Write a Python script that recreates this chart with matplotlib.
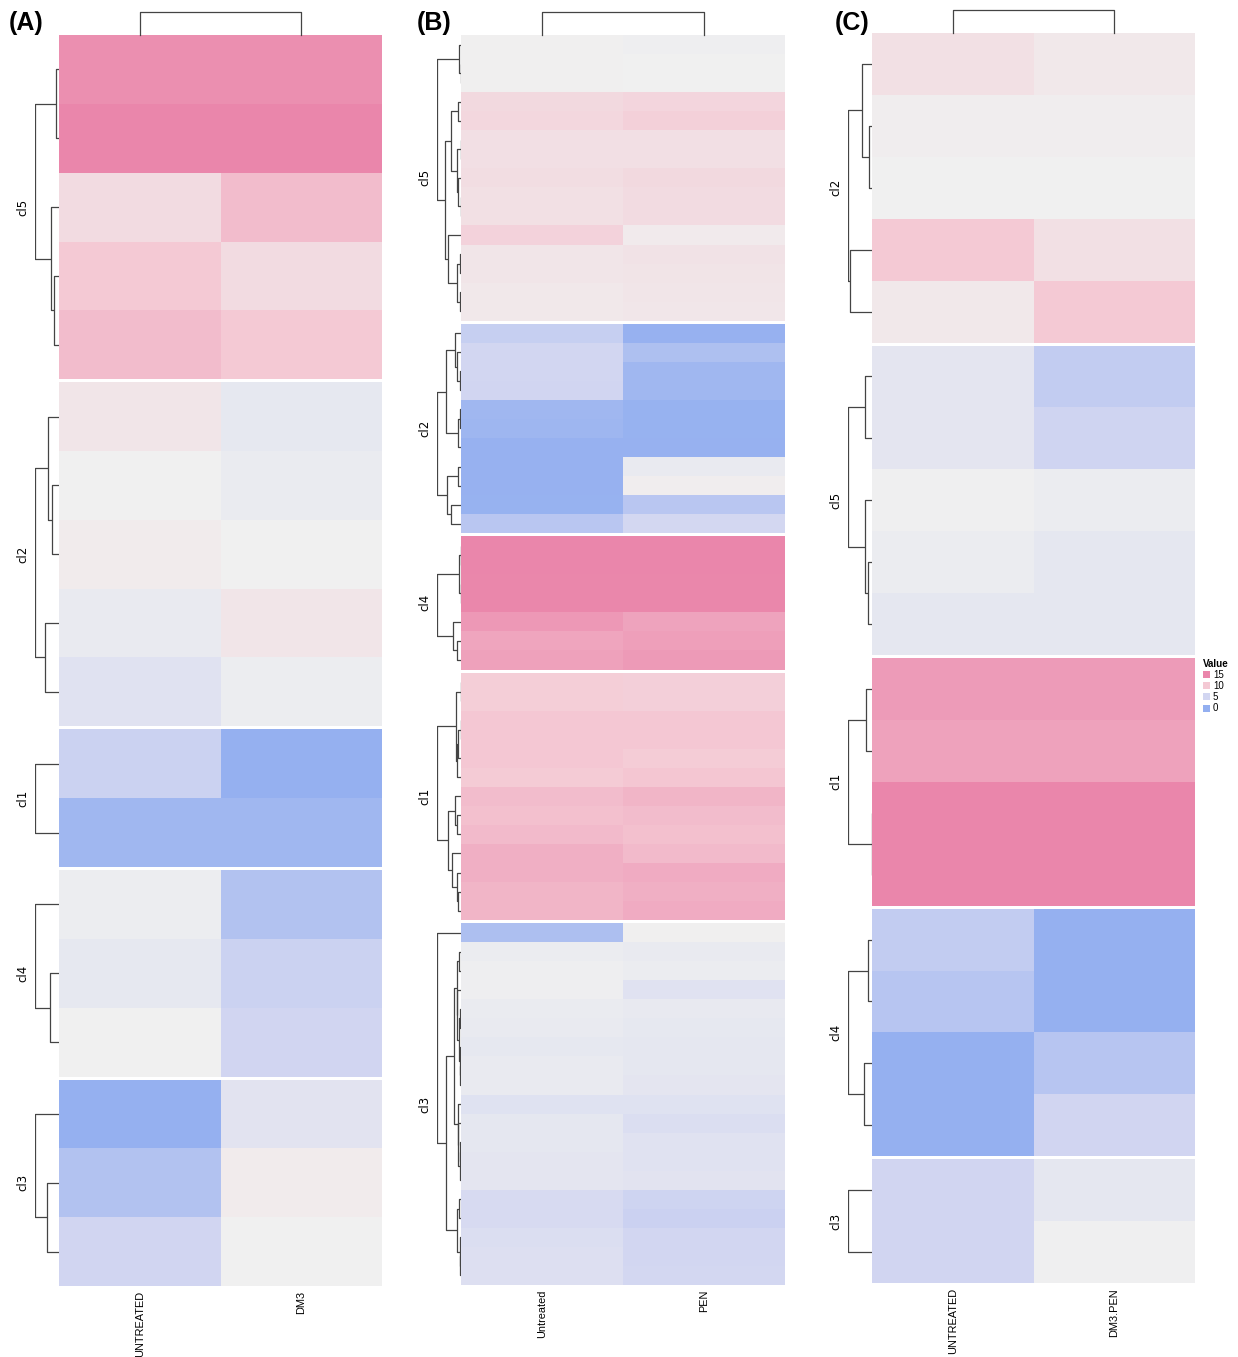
import numpy as np
import matplotlib
matplotlib.use('Agg')
import matplotlib.pyplot as plt
from matplotlib.colors import LinearSegmentedColormap, Normalize
from matplotlib.patches import Patch

plt.rcParams['font.family'] = ['Liberation Sans', 'DejaVu Sans']

# ---- data ----
a_clusters = ['cl5', 'cl2', 'cl1', 'cl4', 'cl3']
a_sizes = [5, 5, 2, 3, 3]
a_cols = ['UNTREATED', 'DM3']
a_untreated = [14.3, 15, 8.8, 10.0, 11.0, 8.2, 7.5, 7.8, 6.9, 6.2, 4.5, 1.0, 7.2, 6.7, 7.5, 0.2, 2.5, 4.9]
a_dm3 = [14.3, 15, 11.0, 8.8, 10.0, 6.7, 7.0, 7.5, 8.2, 7.2, 0.2, 1.0, 2.5, 4.5, 4.9, 6.3, 7.8, 7.5]

b_clusters = ['cl5', 'cl2', 'cl4', 'cl1', 'cl3']
b_sizes = [15, 11, 7, 13, 19]
b_cols = ['Untreated', 'PEN']
b_untreated = [7.6, 7.6, 7.6, 9.0, 9.1, 8.6, 8.6, 8.7, 8.5, 8.5, 9.4, 8.2, 8.2, 8.0, 8.0,
               4.1, 5.0, 5.0, 4.9, 1.1, 0.9, 0.3, 0.3, 0.3, 0.4, 3.0,
               15, 15, 14.9, 14.9, 13.6, 12.7, 13.0,
               9.7, 9.7, 10.1, 10.1, 10.1, 9.9, 10.9, 10.7, 11.1, 11.9, 11.9, 11.5, 11.5,
               2.1, 7.1, 7.3, 7.3, 7.0, 6.9, 6.7, 6.9, 6.9, 6.1, 6.6, 6.6, 6.5, 6.5, 5.4, 5.4, 5.8, 5.9, 5.9]
b_pen = [7.35, 7.5, 7.5, 9.2, 9.5, 8.6, 8.6, 9.0, 8.8, 8.8, 7.9, 8.4, 8.3, 8.2, 8.1,
         0.3, 2.2, 1.1, 1.1, 0.4, 0.4, 0.3, 6.9, 7.7, 3.0, 5.05,
         15, 15, 14.9, 14.9, 12.8, 13.1, 13.5,
         9.6, 9.6, 10.1, 10.1, 9.8, 10.2, 11.5, 10.9, 10.7, 11.1, 12.2, 11.9, 12.2,
         7.6, 6.9, 7.1, 6.2, 6.8, 6.7, 6.6, 6.6, 6.5, 6.1, 5.8, 6.2, 6.2, 6.3, 4.7, 4.4, 5.0, 5.0, 5.1]

c_clusters = ['cl2', 'cl5', 'cl1', 'cl4', 'cl3']
c_sizes = [5, 5, 4, 4, 2]
c_cols = ['UNTREATED', 'DM3.PEN']
c_untreated = [8.5, 7.7, 7.5, 10.0, 8.0, 6.5, 6.5, 7.4, 7.1, 6.6, 13.4, 12.9, 15, 15, 3.8, 2.9, 0.2, 0.2, 4.9, 4.9]
c_dm3pen = [8.0, 7.7, 7.5, 8.5, 10.0, 3.8, 4.8, 7.1, 6.6, 6.6, 13.4, 12.9, 15, 15, 0.2, 0.2, 2.9, 4.9, 6.6, 7.4]

legend_vals = [15, 10, 5, 0]

# colour scale 0..15, blue -> grey -> pink
cmap = LinearSegmentedColormap.from_list('val', [(0, '#93aff0'), (5 / 15, '#d2d6f1'), (0.5, '#f0f0f0'),
                                                 (10 / 15, '#f4c9d4'), (1, '#ea86ab')])
norm = Normalize(0, 15)

W, H = 1238, 1357
fig = plt.figure(figsize=(W / 100, H / 100), dpi=100)


def fx(p):
    return p / W


def fy(p):
    return 1 - p / H


def dendro(vals):
    # complete linkage, merging only neighbouring groups so leaves keep the drawn order
    nodes = [(i + 0.5, 0.0, [i]) for i in range(len(vals))]
    segs = []
    while len(nodes) > 1:
        best = None
        for k in range(len(nodes) - 1):
            a, b = nodes[k], nodes[k + 1]
            d = max(np.linalg.norm(vals[i] - vals[j]) for i in a[2] for j in b[2])
            if best is None or d < best[0]:
                best = (d, k)
        d, k = best
        a, b = nodes[k], nodes[k + 1]
        h = max(d, a[1], b[1])
        segs.append(([a[1], h, h, b[1]], [a[0], a[0], b[0], b[0]]))
        nodes[k:k + 2] = [((a[0] + b[0]) / 2, h, a[2] + b[2])]
    return segs, nodes[0][1]


def panel(tag, tagx, left, right, top, bottom, cols, c1, c2, clusters, sizes, colfs):
    vals = np.column_stack([c1, c2])
    n = len(vals)
    gap_px = 3
    row_px = (bottom - top - gap_px * (len(sizes) - 1)) / n
    gap = gap_px / row_px
    total = n + gap * (len(sizes) - 1)
    ax = fig.add_axes([fx(left), fy(bottom), fx(right - left), (bottom - top) / H])
    dax = fig.add_axes([fx(left - 24), fy(bottom), fx(24), (bottom - top) / H])
    start, i0 = 0.0, 0
    for name, cnt in zip(clusters, sizes):
        block = vals[i0:i0 + cnt]
        ax.pcolormesh([0, 1, 2], start + np.arange(cnt + 1), block, cmap=cmap, norm=norm)
        if cnt > 1:
            segs, root = dendro(block)
            for xs, ys in segs:
                dax.plot(1 - np.array(xs) / root, start + np.array(ys), color='#444444', lw=0.9,
                         solid_capstyle='butt')
        ypix = top + (start + cnt / 2) / total * (bottom - top)
        fig.text(fx(left - 36), fy(ypix), name, rotation=90, ha='center', va='center', fontsize=8.5,
                 family=['DejaVu Sans'])
        start += cnt + gap
        i0 += cnt
    for a in (ax, dax):
        a.set_ylim(total, 0)
        a.axis('off')
    ax.set_xlim(0, 2)
    dax.set_xlim(0, 1.02)
    # column dendrogram
    cax = fig.add_axes([fx(left), fy(top), fx(right - left), 23 / H])
    cax.plot([0.5, 0.5, 1.5, 1.5], [0, 1, 1, 0], color='#444444', lw=0.9, clip_on=False)
    cax.set_xlim(0, 2)
    cax.set_ylim(0, 1)
    cax.axis('off')
    for j, c in enumerate(cols):
        fig.text(fx(left + (j + 0.5) * (right - left) / 2), fy(bottom + 5), c, rotation=90,
                 ha='center', va='top', fontsize=colfs)
    fig.text(fx(tagx), fy(23), tag, fontsize=18, fontweight='bold', ha='left', va='center')


panel('(A)', 9, 59, 382, 35, 1286, a_cols, a_untreated, a_dm3, a_clusters, a_sizes, 7.9)
panel('(B)', 417, 461, 785, 35, 1285, b_cols, b_untreated, b_pen, b_clusters, b_sizes, 7.8)
panel('(C)', 835, 872, 1195, 33, 1283, c_cols, c_untreated, c_dm3pen, c_clusters, c_sizes, 7.9)

handles = [Patch(facecolor=cmap(norm(v)), edgecolor='none', label=str(v)) for v in legend_vals]
fig.legend(handles=handles, title='Value', loc='upper left', bbox_to_anchor=(fx(1196), fy(652)),
           frameon=False, fontsize=7, handlelength=0.75, handleheight=0.75, labelspacing=0.12,
           handletextpad=0.3, borderpad=0.2, alignment='left',
           title_fontproperties={'weight': 'bold', 'size': 7})

fig.savefig('out.png', dpi=100)
